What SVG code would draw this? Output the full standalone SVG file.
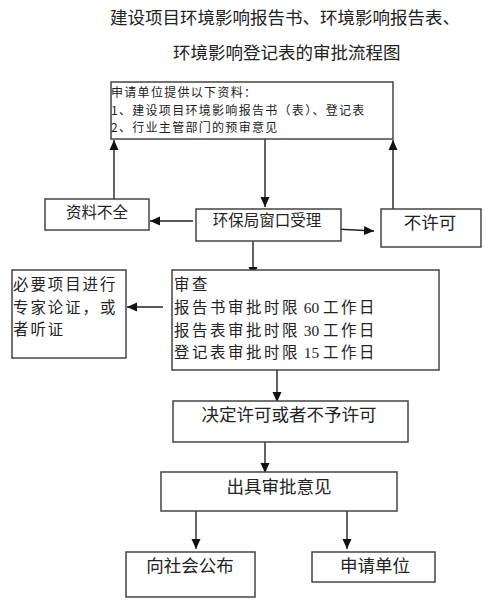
<svg xmlns="http://www.w3.org/2000/svg" width="490" height="600" viewBox="0 0 490 600">
<defs>
<marker id="ah" markerUnits="userSpaceOnUse" markerWidth="10" markerHeight="10" viewBox="0 0 10 10" refX="10" refY="5" orient="auto">
<path d="M0,0.5 L10,5 L0,9.5 Z" fill="#111"/>
</marker>
<style>
.box{fill:#fff;stroke:#444;stroke-width:1.5}
.t{font-family:"Noto Sans CJK SC","Liberation Sans",sans-serif;fill:#222}
.n{font-family:"Liberation Serif","Noto Sans CJK SC",serif;letter-spacing:0}
.c{stroke:#222;stroke-width:1.4;fill:none;marker-end:url(#ah)}
.m{font-size:15.4px;letter-spacing:2px}
.r{font-size:15.4px;letter-spacing:2.6px}
</style>
</defs>
<rect width="490" height="600" fill="#fff"/>
<g id="title" class="t" font-size="17.5">
<text x="110" y="24">建设项目环境影响报告书、环境影响报告表、</text>
<text x="173" y="59">环境影响登记表的审批流程图</text>
</g>
<g id="connectors">
<line class="c" x1="265" y1="139" x2="265" y2="207"/>
<line class="c" x1="114" y1="199" x2="114" y2="140"/>
<line class="c" x1="393" y1="209" x2="393" y2="140"/>
<line class="c" x1="193" y1="221" x2="150" y2="221"/>
<polyline class="c" points="335,229 355,230 374,231"/>
<line class="c" x1="253" y1="241" x2="253" y2="277"/>
<line class="c" x1="163" y1="307" x2="127" y2="307"/>
<line class="c" x1="277" y1="350" x2="277" y2="402"/>
<line class="c" x1="265" y1="442" x2="265" y2="473"/>
<line class="c" x1="196" y1="511" x2="196" y2="549"/>
<line class="c" x1="347" y1="511" x2="347" y2="549"/>
</g>
<g id="apply">
<rect class="box" x="111" y="82" width="282" height="57"/>
<g class="t" font-size="12" letter-spacing="1.3">
<text x="111" y="97">申请单位提供以下资料：</text>
<text x="111" y="114.5">1、建设项目环境影响报告书（表）、登记表</text>
<text x="111" y="132">2、行业主管部门的预审意见</text>
</g>
</g>
<g id="incomplete">
<rect class="box" x="45" y="199" width="104" height="31"/>
<text class="t" x="97" y="218" font-size="15.5" text-anchor="middle">资料不全</text>
</g>
<g id="window">
<rect class="box" x="196" y="209" width="145" height="32"/>
<text class="t" x="267" y="226" font-size="15.5" text-anchor="middle">环保局窗口受理</text>
</g>
<g id="deny">
<rect class="box" x="381" y="209" width="100" height="38"/>
<text class="t" x="430" y="229" font-size="17.5" text-anchor="middle">不许可</text>
</g>
<g id="expert">
<rect class="box" x="12" y="270" width="114" height="88"/>
<g class="t m">
<text x="13" y="290">必要项目进行</text>
<text x="13" y="313">专家论证，或</text>
<text x="13" y="335">者听证</text>
</g>
</g>
<g id="review">
<rect class="box" x="172" y="270" width="267" height="100"/>
<g class="t r">
<text x="174" y="290">审查</text>
<text x="174" y="313">报告书审批时限<tspan class="n"> 60 </tspan>工作日</text>
<text x="174" y="336">报告表审批时限<tspan class="n"> 30 </tspan>工作日</text>
<text x="174" y="358">登记表审批时限<tspan class="n"> 15 </tspan>工作日</text>
</g>
</g>
<g id="decide">
<rect class="box" x="173" y="401" width="235" height="41"/>
<text class="t" x="289" y="421" font-size="17.5" text-anchor="middle">决定许可或者不予许可</text>
</g>
<g id="opinion">
<rect class="box" x="161" y="472" width="236" height="39"/>
<text class="t" x="279" y="493" font-size="17.5" text-anchor="middle">出具审批意见</text>
</g>
<g id="publish">
<rect class="box" x="126" y="552" width="129" height="45"/>
<text class="t" x="190" y="572" font-size="17.5" text-anchor="middle">向社会公布</text>
</g>
<g id="applicant">
<rect class="box" x="312" y="552" width="123" height="30"/>
<text class="t" x="375" y="572" font-size="17.5" text-anchor="middle">申请单位</text>
</g>
</svg>
